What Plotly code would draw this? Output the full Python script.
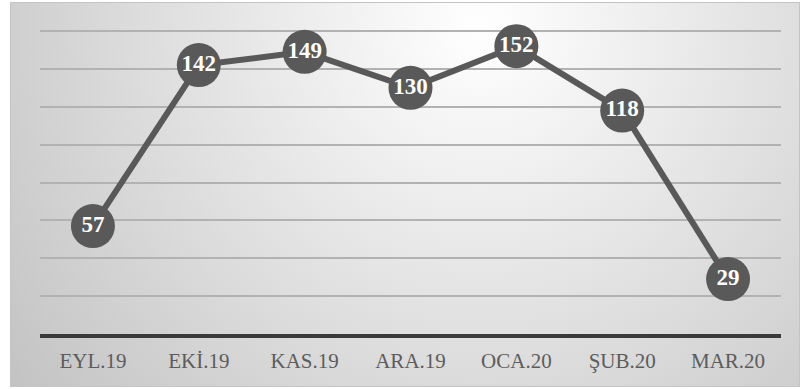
import base64
import plotly.graph_objects as go

# Monthly counts
months = ["EYL.19", "EKİ.19", "KAS.19", "ARA.19", "OCA.20", "ŞUB.20", "MAR.20"]
counts = [57, 142, 149, 130, 152, 118, 29]
grid_ticks = [20, 40, 60, 80, 100, 120, 140, 160]

W, H = 800, 389
L, R, T, B = 40, 19, 30, 55
plot_w = W - L - R
plot_h = H - T - B
y_top = 160.55

# Soft radial-gradient panel behind the chart
panel_w, panel_h = 790, 385
svg = f"""<svg xmlns='http://www.w3.org/2000/svg' width='{panel_w}' height='{panel_h}' viewBox='0 0 {panel_w} {panel_h}'>
<defs><radialGradient id='g' gradientUnits='userSpaceOnUse' cx='470' cy='25' r='620'>
<stop offset='0' stop-color='#ffffff'/><stop offset='1' stop-color='#c0c0c0'/></radialGradient></defs>
<rect x='0' y='0' width='{panel_w}' height='{panel_h}' fill='url(#g)'/>
<rect x='0.5' y='0.5' width='{panel_w - 1}' height='{panel_h - 1}' fill='none' stroke='#c4c4c4' stroke-width='1'/>
</svg>"""
svg_uri = "data:image/svg+xml;base64," + base64.b64encode(svg.encode()).decode()

px0, py0 = 10, 2
img_x = (px0 - L) / plot_w
img_y = (H - B - py0) / plot_h
img_sx = panel_w / plot_w
img_sy = panel_h / plot_h

fig = go.Figure(
    go.Scatter(
        x=months,
        y=counts,
        mode="lines+markers+text",
        line=dict(color="#595959", width=6),
        marker=dict(size=44, color="#595959"),
        text=[str(v) for v in counts],
        textposition="middle center",
        textfont=dict(family="Liberation Serif, Times New Roman, serif", size=23,
                      color="white", weight="bold"),
        cliponaxis=False,
        hoverinfo="skip",
    )
)

fig.update_layout(
    width=W,
    height=H,
    margin=dict(l=L, r=R, t=T, b=B),
    paper_bgcolor="white",
    plot_bgcolor="rgba(0,0,0,0)",
    showlegend=False,
    images=[dict(
        source=svg_uri, xref="paper", yref="paper",
        x=img_x, y=img_y, sizex=img_sx, sizey=img_sy,
        xanchor="left", yanchor="top", sizing="stretch", layer="below",
    )],
    xaxis=dict(
        type="category",
        range=[-0.5, len(months) - 0.5],
        showgrid=False,
        showline=True,
        linecolor="#3a3a3a",
        linewidth=4,
        ticks="",
        ticklabelstandoff=5,
        tickfont=dict(family="Liberation Serif, Times New Roman, serif", size=21,
                      color="#5c5c5c", weight="normal"),
        fixedrange=True,
    ),
    yaxis=dict(
        range=[0, y_top],
        tickvals=grid_ticks,
        showticklabels=False,
        showgrid=True,
        gridcolor="#b2b2b2",
        gridwidth=2,
        zeroline=False,
        showline=False,
        fixedrange=True,
    ),
)

fig.write_html("out.html")
